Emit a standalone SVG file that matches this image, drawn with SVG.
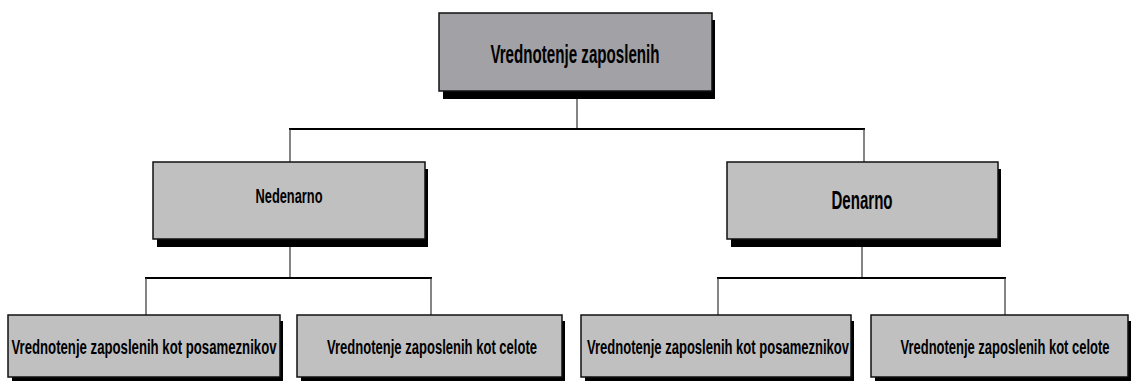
<svg xmlns="http://www.w3.org/2000/svg" width="1131" height="383" viewBox="0 0 1131 383">
<style>
.sh{fill:#000}
.b1{fill:#a2a1a6;stroke:#111;stroke-width:1.5}
.b2{fill:#c0c0c0;stroke:#111;stroke-width:1.5}
.t{font-family:"Liberation Sans",Arial,sans-serif;font-weight:bold;fill:#000;text-anchor:middle}
.h{stroke:#000;stroke-width:2;fill:none}
.v{stroke:#333;stroke-width:1.2;fill:none}
</style>
<rect width="1131" height="383" fill="#fff"/>
<g id="connectors">
<line class="v" x1="577" y1="99" x2="577" y2="129"/>
<line class="h" x1="289" y1="129" x2="865" y2="129"/>
<line class="v" x1="290" y1="129" x2="290" y2="162"/>
<line class="v" x1="864" y1="129" x2="864" y2="162"/>
<line class="v" x1="290" y1="247" x2="290" y2="278"/>
<line class="h" x1="145" y1="278" x2="432" y2="278"/>
<line class="v" x1="146" y1="278" x2="146" y2="315"/>
<line class="v" x1="431" y1="278" x2="431" y2="315"/>
<line class="v" x1="862" y1="247" x2="862" y2="278"/>
<line class="h" x1="717" y1="278" x2="1006" y2="278"/>
<line class="v" x1="718" y1="278" x2="718" y2="315"/>
<line class="v" x1="1005" y1="278" x2="1005" y2="315"/>
</g>
<g id="root">
<rect class="sh" x="443" y="20" width="272" height="79"/>
<rect class="b1" x="439" y="13" width="273" height="78"/>
<text class="t" transform="translate(575,63) scale(0.56,1)" font-size="26" textLength="302" lengthAdjust="spacingAndGlyphs">Vrednotenje zaposlenih</text>
</g>
<g id="nedenarno">
<rect class="sh" x="157" y="169" width="271" height="78"/>
<rect class="b2" x="153" y="162" width="272" height="77"/>
<text class="t" transform="translate(289,203) scale(0.6,1)" font-size="21" textLength="111.7" lengthAdjust="spacingAndGlyphs">Nedenarno</text>
</g>
<g id="denarno">
<rect class="sh" x="731" y="169" width="270" height="78"/>
<rect class="b2" x="727" y="162" width="271" height="77"/>
<text class="t" transform="translate(862,209) scale(0.58,1)" font-size="25" textLength="105.2" lengthAdjust="spacingAndGlyphs">Denarno</text>
</g>
<g id="n1">
<rect class="sh" x="12" y="321" width="271" height="60"/>
<rect class="b2" x="8" y="315" width="272" height="62"/>
<text class="t" transform="translate(144,354) scale(0.6,1)" font-size="21" textLength="441.7" lengthAdjust="spacingAndGlyphs">Vrednotenje zaposlenih kot posameznikov</text>
</g>
<g id="n2">
<rect class="sh" x="301" y="321" width="264" height="60"/>
<rect class="b2" x="297" y="315" width="265" height="62"/>
<text class="t" transform="translate(432,354) scale(0.6,1)" font-size="21" textLength="350" lengthAdjust="spacingAndGlyphs">Vrednotenje zaposlenih kot celote</text>
</g>
<g id="n3">
<rect class="sh" x="585" y="321" width="269" height="60"/>
<rect class="b2" x="581" y="315" width="270" height="62"/>
<text class="t" transform="translate(718,354) scale(0.6,1)" font-size="21" textLength="436.7" lengthAdjust="spacingAndGlyphs">Vrednotenje zaposlenih kot posameznikov</text>
</g>
<g id="n4">
<rect class="sh" x="875" y="321" width="256" height="60"/>
<rect class="b2" x="871" y="315" width="257" height="62"/>
<text class="t" transform="translate(1005,354) scale(0.6,1)" font-size="21" textLength="348.3" lengthAdjust="spacingAndGlyphs">Vrednotenje zaposlenih kot celote</text>
</g>
</svg>
